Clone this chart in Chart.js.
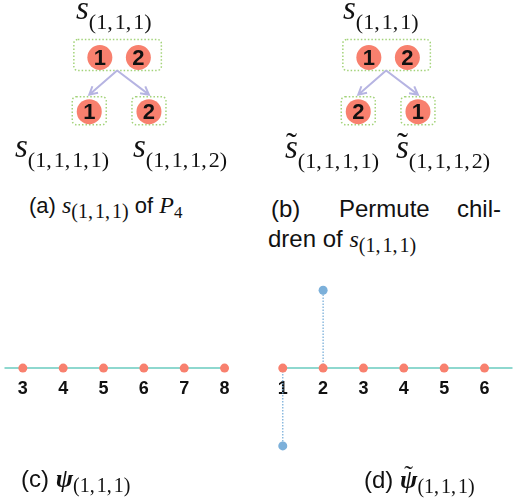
<!DOCTYPE html>
<html><head><meta charset="utf-8">
<script src="https://cdn.jsdelivr.net/npm/chart.js@4.4.1/dist/chart.umd.min.js"></script>
<style>
html,body{margin:0;padding:0;background:#fff}
#fig{position:relative;width:517px;height:503px;overflow:hidden}
canvas{position:absolute}
.lbl{position:absolute;white-space:nowrap;line-height:1;color:#111}
.sans{font-family:"Liberation Sans",Arial,sans-serif}
.lbl i{font-style:italic;font-family:"Liberation Serif","DejaVu Serif",serif}
.sub{font-family:"Liberation Serif","DejaVu Serif",serif;position:relative}
.acc{position:relative;display:inline-block}
.tl{position:absolute;left:0;right:0;text-align:center;font-style:normal;font-weight:normal}
</style></head>
<body><div id="fig">
<canvas id="treeA" width="240" height="150" style="left:0;top:0"></canvas>
<canvas id="treeB" width="240" height="150" style="left:269px;top:0"></canvas>
<canvas id="psiC" width="258" height="200" style="left:0;top:270px"></canvas>
<canvas id="psiD" width="259" height="200" style="left:258px;top:270px"></canvas>
</div>
<script>
// node values of s(1,1,1) and of its two children
const parentA = [1, 2];
const childrenA = [1, 2];
const parentB = [1, 2];
const childrenB = [2, 1]; // children permuted
// psi vectors, indexed 1..8
const psiIdx = [1, 2, 3, 4, 5, 6, 7, 8];
const psiC = [0, 0, 0, 0, 0, 0, 0, 0];
const psiD = [-1, 1, 0, 0, 0, 0, 0, 0];

const NODE = '#f8806e', BOX = '#a3d37a', ARROW = '#b6b4e2';
const TEAL = '#8ed8cf', RED = '#f8806e', BLUE = '#7cb0da';
const R = 12.5;
const fig = document.getElementById('fig');

function rr(ctx, x, y, w, h, r){ ctx.beginPath(); ctx.roundRect(x, y, w, h, r); ctx.stroke(); }
function arrow(ctx, x0, y0, x1, y1){
  const a = Math.atan2(y1-y0, x1-x0), L = 9, w = 0.5;
  ctx.beginPath(); ctx.moveTo(x0,y0); ctx.lineTo(x1,y1);
  ctx.moveTo(x1 - L*Math.cos(a-w), y1 - L*Math.sin(a-w)); ctx.lineTo(x1,y1);
  ctx.lineTo(x1 - L*Math.cos(a+w), y1 - L*Math.sin(a+w));
  ctx.stroke();
}

const treeDecor = {
  id: 'treeDecor',
  beforeDatasetsDraw(chart){
    const ctx = chart.ctx, P = chart.getDatasetMeta(0).data, C = chart.getDatasetMeta(1).data;
    const xs = P.map(p=>p.x), lo = Math.min(...xs), hi = Math.max(...xs);
    const top = P[0].y - R - 5.5, bot = P[0].y + R + 0.5;
    ctx.save();
    ctx.strokeStyle = BOX; ctx.lineWidth = 1.5; ctx.setLineDash([1.5, 2]);
    rr(ctx, lo - R - 13.5, top, hi - lo + 2*R + 24, bot - top, 4);
    C.forEach(c => rr(ctx, c.x - R - 4.5, c.y - R - 2.5, 2*R + 9, 2*R + 3, 4));
    ctx.setLineDash([]); ctx.strokeStyle = ARROW; ctx.lineWidth = 2;
    C.forEach(c => arrow(ctx, (lo+hi)/2 - 2, bot, c.x, c.y - R - 4.5));
    ctx.restore();
  },
  afterDatasetsDraw(chart){
    const ctx = chart.ctx;
    ctx.save();
    ctx.font = 'bold 22px "Liberation Sans"'; ctx.fillStyle = '#111';
    ctx.textAlign = 'center'; ctx.textBaseline = 'middle';
    chart.data.datasets.forEach((ds, d) => {
      chart.getDatasetMeta(d).data.forEach((el, i) => ctx.fillText(ds.data[i].v, el.x, el.y + 1.5));
    });
    ctx.restore();
  }
};

function treeChart(id, pv, cv){
  const slot = (i, n, gap) => (i - (n-1)/2) * gap;
  const nodes = (vals, gap, lvl) => vals.map((v, i) => ({x: slot(i, vals.length, gap), y: lvl, v}));
  const pt = {pointRadius: R, pointHoverRadius: R, backgroundColor: NODE, borderWidth: 0, showLine: false};
  new Chart(document.getElementById(id), {
    type: 'scatter',
    data: {datasets: [{data: nodes(pv, 2, 1), ...pt}, {data: nodes(cv, 3.1, 0), ...pt}]},
    options: {
      responsive: false, animation: false, layout: {padding: 0},
      plugins: {legend: {display: false}, tooltip: {enabled: false}},
      scales: {
        x: {display: false, min: -119/21.5, max: 121/21.5},
        y: {display: false, min: -31/65, max: 1 + 54/65}
      }
    },
    plugins: [treeDecor]
  });
}

function psiChart(id, vals, xMin, xMax){
  const stems = [];
  vals.forEach((v, i) => {
    if (v !== 0) stems.push({
      data: [{x: psiIdx[i], y: 0}, {x: psiIdx[i], y: v}],
      borderColor: BLUE, borderWidth: 1.3, borderDash: [1.5, 1.5],
      pointRadius: [0, 4.5], pointBackgroundColor: BLUE, pointBorderWidth: 0
    });
  });
  new Chart(document.getElementById(id), {
    type: 'line',
    data: {datasets: [{
      data: psiIdx.map(x => ({x, y: 0})),
      borderColor: TEAL, borderWidth: 2, pointRadius: 4.5,
      pointBackgroundColor: RED, pointBorderWidth: 0
    }, ...stems]},
    options: {
      responsive: false, animation: false, layout: {padding: 0},
      plugins: {legend: {display: false}, tooltip: {enabled: false}},
      scales: {
        x: {
          type: 'linear', min: xMin, max: xMax, position: {y: 0},
          grid: {display: false, drawTicks: false}, border: {display: false},
          afterBuildTicks: s => { s.ticks = psiIdx.filter(v => v >= s.min && v <= s.max).map(v => ({value: v})); },
          ticks: {font: {family: 'Liberation Sans', size: 18, weight: 'bold'}, color: '#111', padding: 10, maxRotation: 0, autoSkip: false}
        },
        y: {display: false, min: -102/81.5, max: 98/81.5}
      }
    }
  });
}

treeChart('treeA', parentA, childrenA);
treeChart('treeB', parentB, childrenB);
psiChart('psiC', psiC, 3 - 19/41.8, 3 - 19/41.8 + 258/41.8);
psiChart('psiD', psiD, 1 - 21/41.8, 1 - 21/41.8 + 259/41.8);

// text, placed by baseline
const TS = ',<span style="margin-left:2px"></span>';
function tilde(base, top){ return `<span class="acc">${base}<span class="tl" style="top:${top}em">\u02dc</span></span>`; }
function sym(base, sub, size, subSize, drop){
  return `<i style="font-size:${size}px">${base}</i><span class="sub" style="font-size:${subSize}px;top:${drop}px">${sub}</span>`;
}
function place(html, x, base, size){
  const d = document.createElement('div');
  d.className = 'lbl sans';
  d.style.fontSize = (size || 16) + 'px';
  d.innerHTML = html + '<span style="display:inline-block;width:0;height:0"></span>';
  fig.appendChild(d);
  d.style.left = x + 'px'; d.style.top = '0px';
  d.style.top = (base - d.lastChild.offsetTop) + 'px';
}
const k3 = '(1' + TS + '1' + TS + '1)';
const k4 = i => '(1' + TS + '1' + TS + '1' + TS + i + ')';

place(sym('s', k3, 33, 22, 10), 76, 19);
place(sym('s', k3, 33, 22, 10), 343, 19);
place(sym('s', k4(1), 33, 22, 10), 15, 157);
place(sym('s', k4(2), 33, 22, 10), 133, 157);
place(sym(tilde('s', -0.05), k4(1), 33, 22, 10), 285, 158);
place(sym(tilde('s', -0.05), k4(2), 33, 22, 10), 396, 158);

place('(a) ' + sym('s', k3, 24, 20, 5) + ' of ' + sym('P', '4', 24, 17, 5), 29, 213, 22);
place('(b)', 271, 217, 24);
place('Permute', 339, 217, 24);
place('chil-', 457, 217, 24);
place('dren of ' + sym('s', k3, 24, 20, 5), 268, 247, 24);

place('(c) ' + sym('<b>\u03c8</b>', k3, 26, 20, 5), 21, 487, 24);
place('(d) ' + sym('<b>' + tilde('\u03c8', -0.2) + '</b>', k3, 26, 20, 5), 364, 488, 24);
</script>
</body></html>
